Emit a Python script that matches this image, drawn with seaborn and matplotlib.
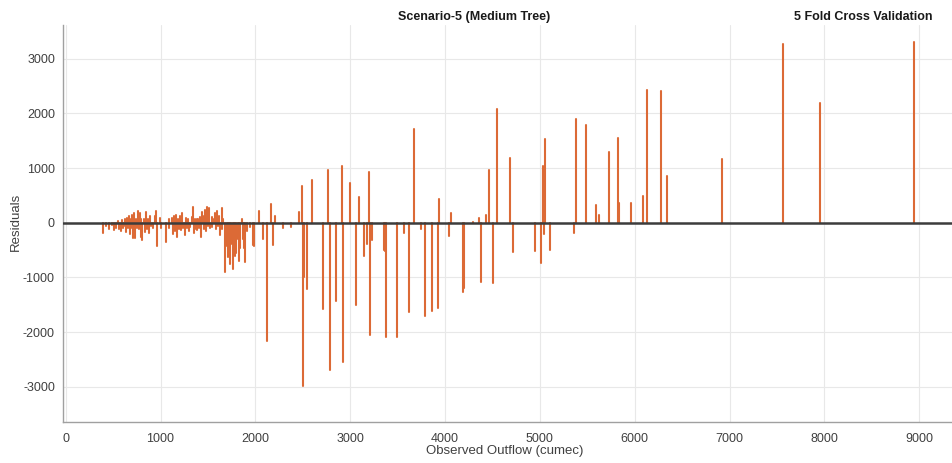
import numpy as np
import pandas as pd
import matplotlib
matplotlib.use("Agg")
import matplotlib.pyplot as plt
import seaborn as sns

# Observed outflow (cumec) and residuals
observed = [
    390, 430, 462, 490, 515, 535, 552, 565, 580, 595, 605, 618, 630, 640, 651, 660, 668, 676,
    686, 693, 700, 710, 721, 730, 746, 752, 763, 772, 781, 790, 798, 810, 826, 835, 851, 860,
    868, 877, 886, 900, 921, 945, 957, 966, 991, 1000, 1063, 1086, 1092, 1117, 1135, 1142,
    1152, 1167, 1170, 1187, 1195, 1205, 1215, 1227, 1240, 1258, 1265, 1275, 1293, 1300, 1310,
    1328, 1346, 1355, 1363, 1372, 1381, 1390, 1398, 1405, 1416, 1425, 1433, 1451, 1460, 1468,
    1480, 1493, 1505, 1514, 1522, 1539, 1548, 1556, 1574, 1590, 1598, 1610, 1620, 1630, 1644,
    1652, 1662, 1683, 1700, 1710, 1718, 1730, 1745, 1764, 1775, 1790, 1800, 1812, 1825, 1841,
    1860, 1870, 1880, 1894, 1915, 1940, 1972, 1985, 2035, 2081, 2118, 2166, 2187, 2208, 2293,
    2378, 2459, 2488, 2498, 2510, 2541, 2594, 2714, 2770, 2784, 2848, 2912, 2929, 3000, 3057,
    3092, 3148, 3175, 3201, 3210, 3233, 3355, 3365, 3380, 3495, 3565, 3625, 3670, 3750, 3785,
    3860, 3925, 3932, 4045, 4063, 4190, 4195, 4290, 4360, 4377, 4430, 4458, 4504, 4546, 4687,
    4711, 4951, 5011, 5030, 5033, 5040, 5049, 5102, 5363, 5384, 5482, 5592, 5620, 5732, 5820,
    5835, 5965, 6085, 6134, 6278, 6338, 6923, 7559, 7949, 8940,
]
residuals = [
    -190, -60, -110, -40, -140, -90, 30, -120, -150, 50, -100, -60, 65, -175, 90, -100, 130, -215,
    60, -100, 150, -285, 170, -275, 60, -100, 215, -120, 170, -255, 70, -315, 60, -175, 200, -110,
    70, -195, 120, -60, -90, 130, 220, -420, 80, -90, -345, 70, -105, 90, -215, 130,
    -150, 140, -255, 70, -110, 120, -130, 170, -100, -225, 80, -100, 70, -160, -80,
    110, 280, -180, 60, -120, 65, -130, 72, -100, 110, -255, 200, 120, -110, 230,
    -150, 290, -60, 260, -100, 110, -80, 70, 170, -110, 215, -60, 120, -225, 260,
    -120, 65, -900, -420, -630, -560, -760, -380, -840, -500, -610, -560, -300, -700, -470,
    60, -300, -460, -715, -150, -80, -410, -420, 220, -290, -2160, 340, -410, 120, -100,
    -75, 190, 670, -2980, -990, -1210, 780, -1570, 970, -2690, -1440, 1040, -2540, 720, -1510,
    470, -610, -380, 920, -2060, -310, -500, -520, -2090, -2090, -195, -1640, 1705, -120, -1700,
    -1620, -1560, 440, -240, 185, -1270, -1200, 20, 85, -1085, 140, 970, -1100, 2085, 1180,
    -535, -515, -730, 1045, 1000, -210, 1535, -500, -195, 1890, 1780, 325, 140, 1290, 1540,
    355, 355, 480, 2430, 2400, 860, 1170, 3265, 2190, 3310,
]

x_ticks = [0, 1000, 2000, 3000, 4000, 5000, 6000, 7000, 8000, 9000]
y_ticks = [-3000, -2000, -1000, 0, 1000, 2000, 3000]

title_main = "Scenario-5 (Medium Tree)"
title_right = "5 Fold Cross Validation"
x_label = "Observed Outflow (cumec)"
y_label = "Residuals"

# long-format table: each stem is a 2-point line from 0 to the residual
rows = []
for i, (xo, r) in enumerate(zip(observed, residuals)):
    rows.append({"id": i, "Observed": xo, "Residual": 0.0})
    rows.append({"id": i, "Observed": xo, "Residual": r})
df = pd.DataFrame(rows)

sns.set_theme(style="whitegrid")
plt.rcParams["font.family"] = ["Liberation Sans", "DejaVu Sans"]

fig = plt.figure(figsize=(9.53, 4.63), dpi=100)
ax = fig.add_axes([0.0664, 0.0879, 0.9336, 0.858])

sns.lineplot(data=df, x="Observed", y="Residual", units="id", estimator=None,
             color="#DC6A36", lw=1.5, ax=ax, legend=False, sort=False)
ax.axhline(0, color="#3c3c3c", lw=1.8, zorder=5)

ax.set_xlim(-25, 9355)
ax.set_ylim(-3649, 3614)
ax.set_xticks(x_ticks)
ax.set_yticks(y_ticks)
ax.set_xticklabels([str(v) for v in x_ticks])
ax.set_yticklabels([str(v) for v in y_ticks])

ax.grid(True, color="#e8e8e8", lw=0.8)
ax.set_facecolor("white")
for side in ["top", "right"]:
    ax.spines[side].set_visible(False)
for side in ["left", "bottom"]:
    ax.spines[side].set_visible(True)
    ax.spines[side].set_color("#a0a0a0")
    ax.spines[side].set_linewidth(1.0)

ax.tick_params(axis="both", direction="in", length=4, width=0.8, color="#a0a0a0",
               labelsize=9, labelcolor="#404040", pad=6)
ax.tick_params(axis="x", pad=8)

ax.set_xlabel("")
ax.set_ylabel("")
fig.text(505 / 953, 1 - 451 / 463, x_label, ha="center", va="center",
         fontsize=9.5, color="#404040")
fig.text(16 / 953, 1 - 222 / 463, y_label, ha="center", va="center",
         rotation=90, fontsize=9.5, color="#404040")

fig.text(0.498, 0.963, title_main, ha="center", va="center", fontsize=9,
         fontweight="bold", color="#1a1a1a")
fig.text(0.978, 0.963, title_right, ha="right", va="center", fontsize=9,
         fontweight="bold", color="#1a1a1a")

fig.savefig("out.png", dpi=100, facecolor="white")
